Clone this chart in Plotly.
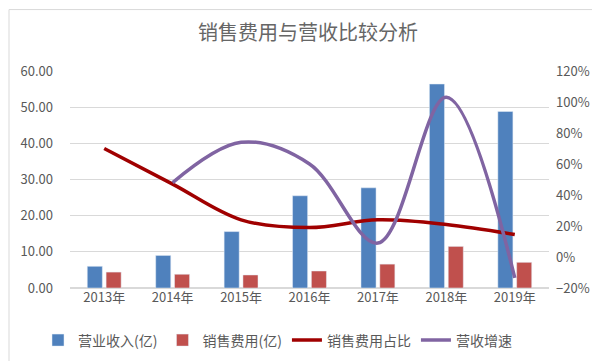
import plotly.graph_objects as go

years = ["2013年", "2014年", "2015年", "2016年", "2017年", "2018年", "2019年"]
revenue = [6.0, 9.0, 15.6, 25.5, 27.7, 56.4, 48.8]
sales_cost = [4.4, 3.8, 3.6, 4.7, 6.6, 11.5, 7.1]
cost_ratio = [70, 47, 24, 19, 24, 21, 14.5]
rev_growth = [None, 48, 74, 60, 9, 103, -13.5]

font_family = "Noto Sans CJK SC, Microsoft YaHei, sans-serif"

fig = go.Figure()
fig.add_trace(go.Bar(x=years, y=revenue, name="营业收入(亿)", marker_color="#4F81BD"))
fig.add_trace(go.Bar(x=years, y=sales_cost, name="销售费用(亿)", marker_color="#C0504D"))
fig.add_trace(go.Scatter(x=years, y=cost_ratio, name="销售费用占比", yaxis="y2",
                         mode="lines", line=dict(color="#A00000", width=3.5, shape="spline", smoothing=1.0)))
fig.add_trace(go.Scatter(x=years, y=rev_growth, name="营收增速", yaxis="y2",
                         mode="lines", line=dict(color="#8064A2", width=3.5, shape="spline", smoothing=1.0)))

L, R, T, B = 62, 59, 63, 79
pw, ph = 600 - L - R, 361 - T - B

fig.update_layout(
    width=600, height=361,
    margin=dict(l=L, r=R, t=T, b=B),
    paper_bgcolor="white", plot_bgcolor="white",
    font=dict(family=font_family, color="#595959", size=12),
    title=dict(text="销售费用与营收比较分析", x=0.5, xanchor="center", y=1 - 25 / 361, yanchor="middle",
               font=dict(size=20, color="#666666", family=font_family)),
    barmode="group", bargap=0.45, bargroupgap=0.2,
    showlegend=True,
    legend=dict(orientation="h", x=(30 - L) / pw, xanchor="left", y=-(335 - 282) / ph, yanchor="middle",
                font=dict(size=14, color="#595959"), itemwidth=30, traceorder="normal"),
    xaxis=dict(showgrid=False, showline=False, ticks="", tickfont=dict(size=13, color="#595959")),
    yaxis=dict(range=[0, 60], dtick=10, tickformat=".2f", showgrid=True, gridcolor="#D9D9D9",
               zeroline=True, zerolinecolor="#D9D9D9", showline=False, ticks="",
               tickfont=dict(size=13, color="#595959"), ticklabelstandoff=16),
    yaxis2=dict(range=[-20, 120], dtick=20, ticksuffix="%", overlaying="y", side="right",
                showgrid=False, zeroline=False, showline=False, ticks="",
                tickfont=dict(size=13, color="#595959"), ticklabelstandoff=6),
    shapes=[dict(type="rect", xref="paper", yref="paper",
                 x0=-(L - 1) / pw, x1=1 + (R - 1) / pw, y0=-(B - 1) / ph, y1=1 + (T - 1) / ph,
                 line=dict(color="#D9D9D9", width=1), layer="below")],
)

fig.write_html("out.html")
